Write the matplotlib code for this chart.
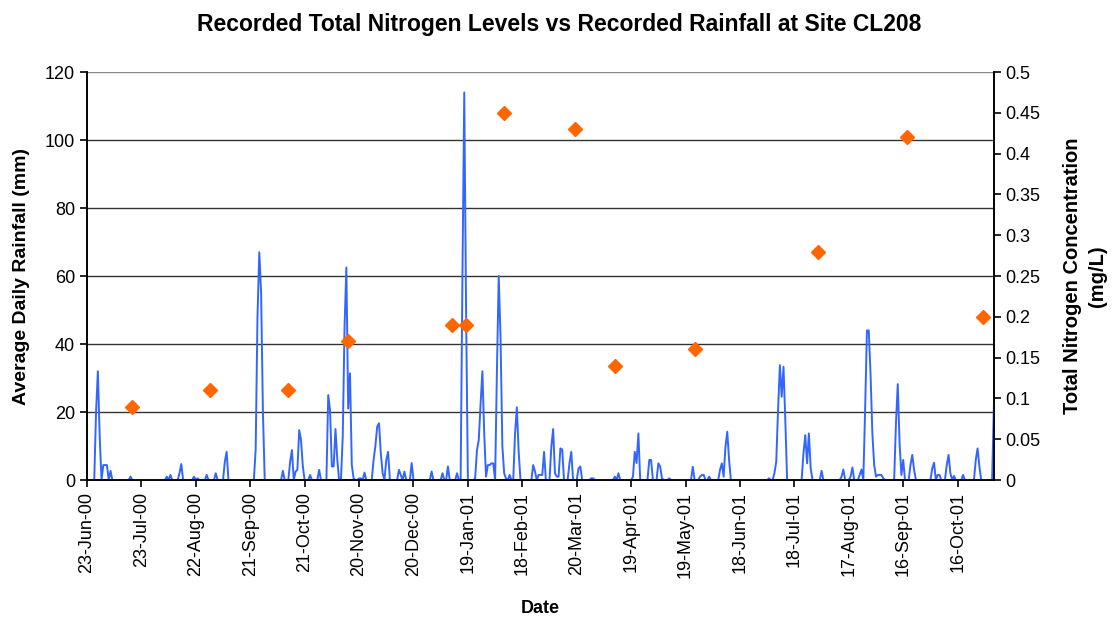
import numpy as np
import pandas as pd
import matplotlib
matplotlib.use("Agg")
import matplotlib.pyplot as plt
import matplotlib.dates as mdates

plt.rcParams["font.family"] = ["Liberation Sans", "DejaVu Sans"]

# rainfall: day offset from start date -> mm (days not listed are 0)
start = pd.Timestamp("2000-06-23")
end_day = 500
rain_day = [5, 6, 7, 9, 10, 11, 13, 24, 44, 46, 51, 52, 59, 61, 66, 71, 76, 77,
            93, 94, 95, 96, 97, 108, 112, 113, 115, 116, 117, 118, 119, 123, 128,
            133, 134, 135, 136, 137, 138, 141, 142, 143, 144, 145, 146, 147,
            150, 151, 153, 158, 159, 160, 161, 162, 163, 165, 166, 172, 173, 175,
            179, 190, 196, 199, 204, 207, 208, 209, 214, 215, 216, 217, 218, 219,
            220, 221, 222, 223, 224, 226, 227, 228, 229, 230, 231, 233, 236, 237,
            238, 246, 247, 249, 250, 251, 252, 256, 257, 258, 259, 260, 261, 262,
            266, 267, 271, 272, 278, 279, 291, 293, 301, 302, 303, 304, 310, 311,
            315, 316, 317, 321, 334, 338, 339, 340, 343, 349, 350, 351, 352, 353,
            354, 376, 379, 380, 381, 382, 383, 384, 385, 395, 396, 397, 398, 399,
            405, 416, 417, 421, 422, 426, 427, 429, 430, 431, 432, 433, 434, 435,
            436, 437, 438, 439, 446, 447, 448, 449, 450, 454, 455, 456, 466, 467,
            469, 470, 474, 475, 476, 478, 483, 490, 491, 492, 500]
rain_mm = [20, 32, 13, 4.4, 4.4, 4.4, 2.7, 1, 1, 1.5, 2, 4.7, 1, 0.5, 1.5, 2, 5.4, 8.3,
           9, 48, 67, 55, 20, 2.7, 5.4, 8.8, 2.5, 3, 14.7, 11.8, 4, 1.5, 3,
           25, 20.6, 4, 4, 15, 6, 12.7, 45, 62.5, 21, 31.4, 4.4, 0.5,
           0.5, 0.5, 2.2, 5.9, 10, 15.7, 16.7, 7.8, 2, 5.9, 8.3, 3, 1.5, 2.5,
           5, 2.5, 2, 4, 2, 60, 114, 50, 0.5, 8.8, 11.8, 22.5, 32, 13.7,
           1, 4.4, 4.4, 4.9, 4.9, 32, 60, 42, 10, 2, 0.5, 1.5, 13.7, 21.4,
           8.3, 4.4, 2.5, 1.5, 1.5, 1.5, 8.3, 9.8, 15, 2, 1, 1, 9.3, 9,
           4.9, 8.3, 3.4, 4, 0.5, 0.5, 1, 2, 1, 8.3, 5, 13.7, 5.9, 5.9,
           4.9, 4, 0.5, 0.5, 3.9, 1, 1.5, 1.5, 1, 3, 4.9, 1, 9.8, 14.2,
           5.9, 0.5, 2, 5.4, 20.6, 33.8, 24.5, 33.3, 17.6, 7.8, 13.2, 4.9, 13.7, 3.4,
           2.7, 1, 3.1, 1, 3.7, 1.5, 3.1, 20.6, 44, 44, 31, 13.7, 4.4, 1,
           1.5, 1.5, 1.5, 0.5, 16.7, 28.2, 10.8, 1.5, 5.9, 4.4, 7.4, 3, 3.4, 5.1,
           1.5, 1.5, 4.4, 7.4, 2, 1.2, 1.5, 5.9, 9.3, 4, 22]

# total nitrogen samples
tn_dates = ["2000-07-18", "2000-08-30", "2000-10-12", "2000-11-14", "2001-01-10",
            "2001-01-18", "2001-02-08", "2001-03-19", "2001-04-10", "2001-05-24",
            "2001-07-31", "2001-09-18", "2001-10-30"]
tn_mgl = [0.09, 0.11, 0.11, 0.17, 0.19, 0.19, 0.45, 0.43, 0.14, 0.16, 0.28, 0.42, 0.20]

days = pd.date_range(start, periods=end_day + 1, freq="D")
rain = pd.Series(0.0, index=days)
rain.iloc[rain_day] = rain_mm

fig = plt.figure(figsize=(11.18, 6.21), dpi=100)
ax = fig.add_axes([0.0778, 0.227, 0.8112, 0.657])
ax2 = ax.twinx()

ax.plot(rain.index, rain.values, color="#3366FF", lw=1.4, zorder=3)
ax2.plot(pd.to_datetime(tn_dates), tn_mgl, "D", color="#FF6600", ms=7, mec="#FF6600", zorder=4)

ax.set_xlim(days[0], days[-1])
ax.set_ylim(0, 120)
ax.set_yticks(range(0, 121, 20))
ax2.set_ylim(0, 0.5)
ax2.set_yticks(np.arange(0, 0.501, 0.05))
ax2.set_yticklabels(["0", "0.05", "0.1", "0.15", "0.2", "0.25", "0.3", "0.35", "0.4", "0.45", "0.5"])

xt = pd.date_range(start, days[-1], freq="30D")
ax.set_xticks(xt)
ax.xaxis.set_major_formatter(mdates.DateFormatter("%d-%b-%y"))
plt.setp(ax.get_xticklabels(), rotation=90)

for y in range(20, 121, 20):
    ax.axhline(y, color="#333333" if y < 120 else "#888888", lw=1, zorder=1)

ax.spines["top"].set_visible(False)
ax2.spines["top"].set_visible(False)
for a in (ax, ax2):
    for s in a.spines.values():
        s.set_linewidth(1.2)
ax.tick_params(direction="out", length=5, labelsize=13, width=1.2)
ax2.tick_params(direction="out", length=5, labelsize=13, width=1.2)

ax.set_ylabel("Average Daily Rainfall (mm)", fontsize=14, fontweight="bold")
ax.yaxis.set_label_coords(-0.063, 0.5)
fig.text(1085 / 1118, 1 - 276 / 621, "Total Nitrogen Concentration\n(mg/L)",
         rotation=90, ha="center", va="center", multialignment="center",
         fontsize=14.5, fontweight="bold", linespacing=1.35)
ax.set_xlabel("Date", fontsize=13, fontweight="bold")
ax.xaxis.set_label_coords(0.5, -0.293)
fig.text(0.5, 1 - 24 / 621, "Recorded Total Nitrogen Levels vs Recorded Rainfall at Site CL208",
         fontsize=16.5, fontweight="bold", ha="center", va="center")

fig.savefig("out.png", dpi=100)
